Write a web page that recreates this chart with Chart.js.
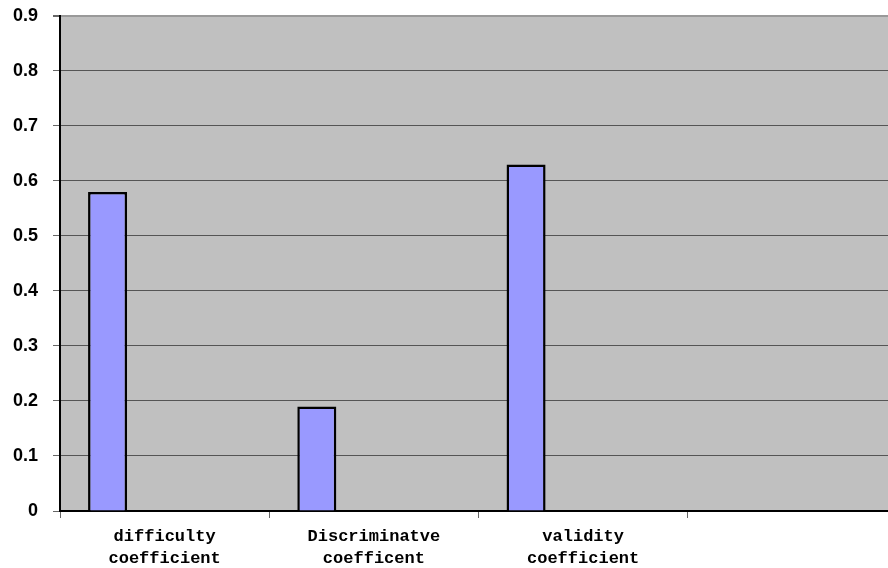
<!DOCTYPE html>
<html>
<head>
<meta charset="utf-8">
<script src="https://cdn.jsdelivr.net/npm/chart.js@4/dist/chart.umd.min.js"></script>
<style>
  html, body { margin: 0; padding: 0; background: #fff; overflow: hidden; }
  #wrap { width: 897px; height: 568px; position: relative; }
</style>
</head>
<body>
<div id="wrap"><canvas id="chart"></canvas></div>
<script>
// categories (the 4th slot is empty in the original)
const categories = [
    ['difficulty', 'coefficient'],
    ['Discriminatve', 'coefficent'],
    ['validity', 'coefficient'],
    ''
];
const seriesValues = [0.58, 0.19, 0.63, null];
// the original chart reserves room for two more (empty) series
const emptySeriesA = [];
const emptySeriesB = [];
const yMax = 0.9;
const yStep = 0.1;

// gray plot area like the old Excel default
const plotBackground = {
    id: 'plotBackground',
    beforeDraw(chart) {
        const { ctx, chartArea } = chart;
        ctx.save();
        ctx.fillStyle = '#c0c0c0';
        ctx.fillRect(chartArea.left, chartArea.top, chartArea.right - chartArea.left, chartArea.bottom - chartArea.top);
        ctx.restore();
    }
};

const barStyle = {
    backgroundColor: '#9999ff',
    borderColor: '#000000',
    borderWidth: 2.5,
    categoryPercentage: 0.818,
    barPercentage: 0.684
};

new Chart(document.getElementById('chart'), {
    type: 'bar',
    data: {
        labels: categories,
        datasets: [
            { label: 'Series1', data: seriesValues, ...barStyle },
            { label: 'Series2', data: emptySeriesA, ...barStyle },
            { label: 'Series3', data: emptySeriesB, ...barStyle }
        ]
    },
    options: {
        responsive: true,
        maintainAspectRatio: false,
        animation: false,
        layout: { padding: { left: 0, top: 1, right: 0, bottom: 0 } },
        plugins: {
            legend: { display: false },
            tooltip: { enabled: false }
        },
        scales: {
            x: {
                afterFit: (scale) => { scale.height = 57; },
                grid: {
                    offset: true,
                    drawOnChartArea: false,
                    tickLength: 7,
                    color: '#666666'
                },
                border: { color: '#000000', width: 2 },
                ticks: {
                    color: '#000000',
                    padding: 8,
                    maxRotation: 0,
                    autoSkip: false,
                    font: { family: '"Liberation Mono", "DejaVu Sans Mono", monospace', size: 17, weight: 'bold', lineHeight: 1.3 }
                }
            },
            y: {
                min: 0,
                max: yMax,
                afterFit: (scale) => { scale.width = 60; },
                grid: {
                    color: (c) => c.tick && c.tick.value >= yMax - 1e-9 ? '#999999' : '#555555',
                    lineWidth: (c) => c.tick && c.tick.value >= yMax - 1e-9 ? 2 : 1,
                    tickLength: 7,
                    tickColor: '#666666'
                },
                border: { color: '#000000', width: 2 },
                ticks: {
                    stepSize: yStep,
                    padding: 15,
                    color: '#000000',
                    // tiny lineHeight keeps the axis from reserving extra room at the top
                    font: { family: '"Liberation Sans", Arial, sans-serif', size: 18, weight: 'bold', lineHeight: 0.1 },
                    callback: (v) => v === 0 ? '0' : Number(v).toFixed(1)
                }
            }
        }
    },
    plugins: [plotBackground]
});
</script>
</body>
</html>
